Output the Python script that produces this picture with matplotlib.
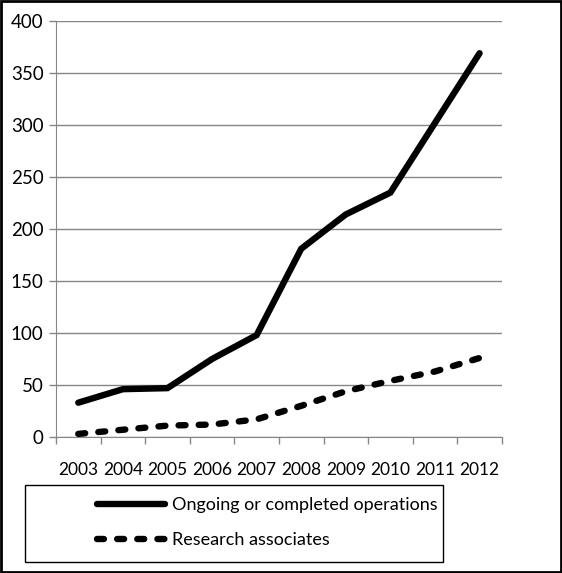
import matplotlib
matplotlib.use('Agg')
import matplotlib.pyplot as plt
from matplotlib.patches import Rectangle

years = ['2003', '2004', '2005', '2006', '2007', '2008', '2009', '2010', '2011', '2012']
operations = [33, 46, 47, 75, 98, 181, 214, 235, 302, 369]
associates = [3, 7, 11, 12, 17, 30, 44, 54, 63, 76]
y_ticks = [0, 50, 100, 150, 200, 250, 300, 350, 400]

plt.rcParams['font.family'] = ['Lato', 'DejaVu Sans']
plt.rcParams['lines.scale_dashes'] = False

fig = plt.figure(figsize=(5.62, 5.73), dpi=100)
ax = fig.add_axes([0.0996, 0.2373, 0.7934, 0.7261])

x = list(range(len(years)))
ax.plot(x, operations, color='black', linewidth=4.6, solid_capstyle='round',
        solid_joinstyle='miter', label='Ongoing or completed operations')
ax.plot(x, associates, color='black', linewidth=4.6, linestyle=(0, (5, 9.5)),
        dash_capstyle='round', label='Research associates')

ax.set_xlim(-0.5, len(years) - 0.5)
ax.set_ylim(0, 400)
ax.set_yticks(y_ticks)
ax.set_xticks(x)
ax.set_xticklabels(years)
ax.set_xticks([i - 0.5 for i in range(len(years) + 1)], minor=True)
ax.tick_params(axis='x', which='major', length=0, pad=18, labelsize=12.5)
ax.tick_params(axis='x', which='minor', length=5, color='#868686', width=1, direction='out')
ax.tick_params(axis='y', length=5, color='#868686', width=1, pad=4, labelsize=13.5)

ax.grid(axis='y', color='#868686', linewidth=1)
ax.set_axisbelow(True)
for side in ['top', 'right']:
    ax.spines[side].set_visible(False)
ax.spines['left'].set_color('#868686')
ax.spines['bottom'].set_color('#868686')

# legend box
fig.patches.append(Rectangle((0.0445, 0.0192), 0.7435, 0.1344, transform=fig.transFigure,
                             fill=False, edgecolor='black', linewidth=1))
fig.legend(loc='upper left', bbox_to_anchor=(0.172, 0.132), frameon=False, fontsize=13,
           handlelength=3.8, handletextpad=0.4, labelspacing=1.05, borderpad=0,
           borderaxespad=0)

# outer border
fig.patches.append(Rectangle((0.002, 0.002), 0.996, 0.996, transform=fig.transFigure,
                             fill=False, edgecolor='black', linewidth=2))

fig.savefig('out.png', dpi=100)
